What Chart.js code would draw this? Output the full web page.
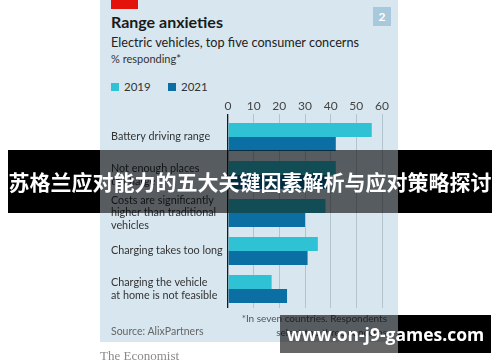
<!DOCTYPE html>
<html>
<head>
<meta charset="utf-8">
<script src="https://cdn.jsdelivr.net/npm/chart.js@4.4.1/dist/chart.umd.min.js"></script>
<style>
  html,body{margin:0;padding:0;background:#fff;}
  body{width:500px;height:362px;position:relative;overflow:hidden;font-family:Lato,"Open Sans",sans-serif;}
  .abs{position:absolute;}
  #panel{left:100px;top:0;width:298px;height:342px;background:#d7e6ef;}
  #redbar{left:111px;top:0;width:27px;height:9px;background:#e3120b;}
  #title{left:111px;top:12px;font-size:16px;font-weight:bold;color:#1a1a1a;white-space:nowrap;}
  #sub{left:111px;top:34px;font-size:12.7px;color:#222;white-space:nowrap;}
  #unit{left:111px;top:52px;font-size:11px;color:#333;white-space:nowrap;}
  .sq{width:8px;height:8px;top:83px;}
  .lg{top:80px;font-size:11.5px;color:#333;}
  #num{left:373px;top:7px;width:18px;height:19px;background:#a8c9dc;color:#fff;font-weight:bold;font-size:12px;text-align:center;line-height:19px;}
  #cv{left:100px;top:95px;}
  #foot1{right:113px;top:312px;font-size:10px;color:#555;white-space:nowrap;text-align:right;}
  #foot2{right:113px;top:326px;font-size:10px;color:#555;white-space:nowrap;}
  #src{left:111px;top:325px;font-size:10.5px;color:#666;white-space:nowrap;}
  #eco{left:100px;top:348px;font-family:"Liberation Serif","DejaVu Serif",serif;font-size:13px;color:#8a8a8a;white-space:nowrap;}
  .blk{background:#000;}
  .tr{background:rgba(0,0,0,0.6);}
  #bannertxt{left:8px;top:150px;width:484px;height:63px;line-height:63px;text-align:center;color:#fff;font-family:"Noto Sans CJK SC",sans-serif;font-weight:bold;font-size:21px;white-space:nowrap;}
  #wmtxt{left:280px;top:315px;width:211px;height:38px;line-height:38px;text-align:center;color:#fff;font-family:"Open Sans","DejaVu Sans",sans-serif;font-weight:bold;font-size:17.5px;white-space:nowrap;}
</style>
</head>
<body>
<div id="panel" class="abs"></div>
<div id="redbar" class="abs"></div>
<div id="title" class="abs">Range anxieties</div>
<div id="sub" class="abs">Electric vehicles, top five consumer concerns</div>
<div id="unit" class="abs">% responding*</div>
<div class="abs sq" style="left:111px;background:#2fc1d4;"></div>
<div class="abs lg" style="left:124px;">2019</div>
<div class="abs sq" style="left:168px;background:#0b6fa3;"></div>
<div class="abs lg" style="left:181px;">2021</div>
<div id="num" class="abs">2</div>
<canvas id="cv" class="abs" width="298" height="220"></canvas>
<div id="foot1" class="abs">*In seven countries. Respondents</div>
<div id="foot2" class="abs">select top three concerns</div>
<div id="src" class="abs">Source: AlixPartners</div>
<div id="eco" class="abs">The Economist</div>

<div class="abs blk" style="left:8px;top:150px;width:92px;height:63px;"></div>
<div class="abs tr" style="left:100px;top:150px;width:298px;height:63px;"></div>
<div class="abs blk" style="left:398px;top:150px;width:94px;height:63px;"></div>
<div id="bannertxt" class="abs">苏格兰应对能力的五大关键因素解析与应对策略探讨</div>

<div class="abs tr" style="left:280px;top:315px;width:118px;height:38px;"></div>
<div class="abs blk" style="left:398px;top:315px;width:93px;height:38px;"></div>
<div id="wmtxt" class="abs">www.on-j9-games.com</div>

<script>
const categories = [
  "Battery driving range",
  ["Not enough places", "to charge"],
  ["Costs are significantly", "higher than traditional", "vehicles"],
  "Charging takes too long",
  ["Charging the vehicle", "at home is not feasible"]
];
const values2019 = [56, 42, 38, 35, 17];
const values2021 = [42, 39, 30, 31, 23];
const seriesNames = ["2019", "2021"];
const xTicks = [0, 10, 20, 30, 40, 50, 60];

const ctx = document.getElementById('cv').getContext('2d');
new Chart(ctx, {
  type: 'bar',
  data: {
    labels: categories,
    datasets: [
      {label: seriesNames[0], data: values2019, backgroundColor: '#2fc1d4', borderWidth: 0, categoryPercentage: 0.74, barPercentage: 1.0},
      {label: seriesNames[1], data: values2021, backgroundColor: '#0b6fa3', borderWidth: 0, categoryPercentage: 0.74, barPercentage: 1.0}
    ]
  },
  options: {
    indexAxis: 'y',
    responsive: false,
    animation: false,
    devicePixelRatio: 1,
    layout: {padding: {left: 11, right: 16, top: 0, bottom: 7}},
    plugins: {legend: {display: false}, tooltip: {enabled: false}},
    scales: {
      x: {
        position: 'top',
        min: 0, max: 60,
        afterBuildTicks: (s) => { s.ticks = xTicks.map(v => ({value: v})); },
        afterFit: (s) => { s.height = 23; },
        border: {display: false},
        grid: {
          color: (c) => c.tick && c.tick.value === 0 ? '#1a1a1a' : '#b3c4cf',
          lineWidth: (c) => c.tick && c.tick.value === 0 ? 1.3 : 1,
          tickLength: 4,
          drawTicks: true
        },
        ticks: {padding: 1, color: '#444', font: {family: 'Lato', size: 12}, maxRotation: 0, autoSkip: false}
      },
      y: {
        afterFit: (s) => { s.width = 117; },
        border: {display: false},
        grid: {display: false},
        ticks: {crossAlign: 'far', autoSkip: false, color: '#333', font: {family: 'Lato', size: 10.8, lineHeight: 1.2}, padding: 0}
      }
    }
  }
});
</script>
</body>
</html>
